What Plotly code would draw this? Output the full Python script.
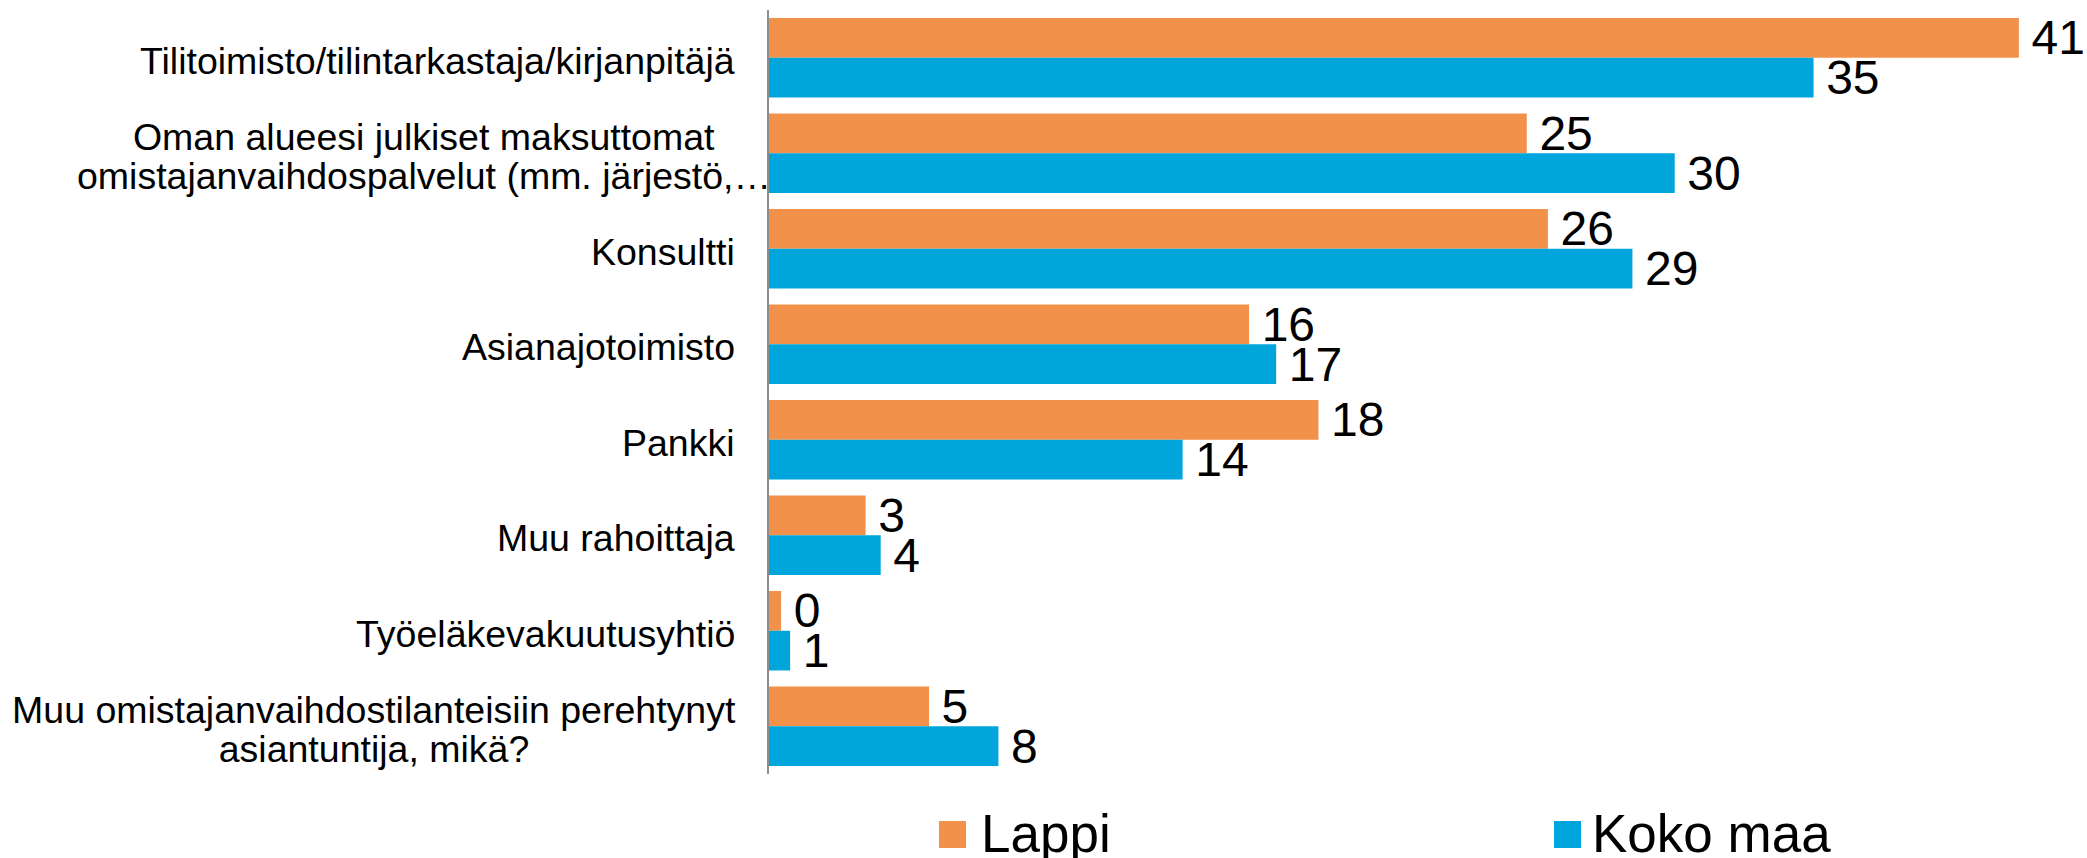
import plotly.graph_objects as go

# ---- data ----
categories = [
    "Tilitoimisto/tilintarkastaja/kirjanpitäjä",
    "Oman alueesi julkiset maksuttomat<br>omistajanvaihdospalvelut (mm. järjestö,…",
    "Konsultti",
    "Asianajotoimisto",
    "Pankki",
    "Muu rahoittaja",
    "Työeläkevakuutusyhtiö",
    "Muu omistajanvaihdostilanteisiin perehtynyt<br>asiantuntija, mikä?",
]
series_names = ["Lappi", "Koko maa"]
lappi = [41.4, 25.1, 25.8, 15.9, 18.2, 3.2, 0.4, 5.3]
koko_maa = [34.6, 30.0, 28.6, 16.8, 13.7, 3.7, 0.7, 7.6]
series_values = [lappi, koko_maa]
colors = ["#F2914A", "#00A5DB"]

# ---- layout constants (pixels) ----
W, H = 2087, 858
L, R, T, B = 769, 47, 10, 84
PW, PH = W - L - R, H - T - B
FONT = "Arial, Liberation Sans, sans-serif"
CAT_FS = 37.5
LINE_GAP = 38.6          # distance between wrapped label lines
# label block widths/right offsets for wrapped labels (layout only)
BLOCK_W = {1: 700, 7: 730}
RIGHT_SHIFT = {1: 3}


def px_x(px):
    return (px - L) / PW


def px_y(py):
    return (H - B - py) / PH


fig = go.Figure()
for name, vals, col in zip(series_names, series_values, colors):
    fig.add_trace(go.Bar(
        y=categories, x=vals, name=name, orientation="h",
        marker=dict(color=col, line=dict(width=0)),
        text=vals, texttemplate="\u2009%{x:.0f}", textposition="outside",
        textfont=dict(size=48, color="#000000", family=FONT),
        constraintext="none", cliponaxis=False, showlegend=False,
        hoverinfo="x+y",
    ))

annotations = []
for k, cat in enumerate(categories):
    lines = cat.split("<br>")
    n = len(lines)
    shift = RIGHT_SHIFT.get(k, -32)
    for i, ln in enumerate(lines):
        yshift = -3 - (i - (n - 1) / 2) * LINE_GAP
        ann = dict(
            x=0, xref="paper", y=cat, yref="y", xanchor="right", yanchor="middle",
            xshift=shift, yshift=yshift, text=ln, showarrow=False,
            align="center" if n > 1 else "right",
            font=dict(size=CAT_FS, color="#000000", family=FONT),
        )
        if n > 1:
            ann["width"] = BLOCK_W[k]
            ann["xshift"] = shift + 4
        annotations.append(ann)

# manual legend (large square swatches like the reference)
legend_sq = [(939, 966), (1554, 1581)]
legend_txt_x = [979, 1590]
shapes = []
for (x0, x1), tx, name, col in zip(legend_sq, legend_txt_x, series_names, colors):
    shapes.append(dict(type="rect", xref="paper", yref="paper",
                       x0=px_x(x0), x1=px_x(x1), y0=px_y(848), y1=px_y(821),
                       fillcolor=col, line=dict(width=0)))
    annotations.append(dict(
        x=px_x(tx), xref="paper", y=px_y(834), yref="paper",
        xanchor="left", yanchor="middle", text=name, showarrow=False,
        font=dict(size=53, color="#000000", family=FONT),
    ))

fig.update_layout(
    width=W, height=H,
    margin=dict(l=L, r=R, t=T, b=B, pad=0),
    paper_bgcolor="white", plot_bgcolor="white",
    barmode="group", bargap=0.168, bargroupgap=0,
    font=dict(family=FONT, color="#000000"),
    xaxis=dict(visible=False, range=[0, 42.1], fixedrange=True),
    yaxis=dict(type="category", autorange="reversed", showticklabels=False,
               showgrid=False, zeroline=False, ticks="", fixedrange=True,
               showline=True, linecolor="#8C8C8C", linewidth=2),
    annotations=annotations,
    shapes=shapes,
    showlegend=False,
)

fig.write_html("out.html", config={"displayModeBar": False},
               post_script="document.body.style.margin='0';document.body.style.overflow='hidden';")
